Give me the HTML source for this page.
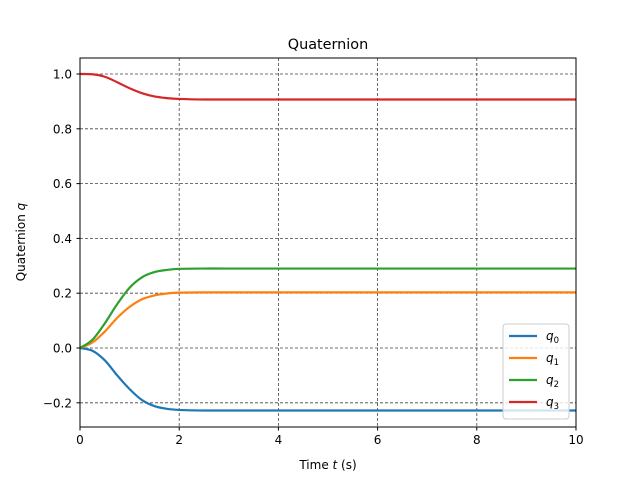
<!DOCTYPE html>
<html><head><meta charset="utf-8"><style>
body{margin:0;background:#fff;}
svg text{font-family:"DejaVu Sans","Liberation Sans",sans-serif;}
</style></head><body>
<svg id="chart" width="640" height="480" xmlns="http://www.w3.org/2000/svg">
<rect width="640" height="480" fill="#fff"/>
<g id="grid"></g>
<g id="lines"></g>
<rect x="80" y="58" width="496" height="369" fill="none" stroke="#000" stroke-width="1"/>
<g id="ticks"></g>
<text x="328" y="49" text-anchor="middle" font-size="14.4">Quaternion</text>
<text x="328" y="469" text-anchor="middle" font-size="12">Time <tspan font-style="italic">t</tspan> (s)</text>
<text transform="translate(25,242) rotate(-90)" text-anchor="middle" font-size="12">Quaternion <tspan font-style="italic">q</tspan></text>
<g id="legend"></g>
</svg>
<script>
const times=[0,0.25,0.5,0.75,1,1.25,1.5,1.75,2,2.5,3,4,6,8,10];
const q0=[0,-0.01,-0.045,-0.1,-0.15,-0.19,-0.212,-0.222,-0.226,-0.228,-0.228,-0.228,-0.228,-0.228,-0.228];
const q1=[0,0.02,0.06,0.11,0.15,0.178,0.192,0.199,0.202,0.203,0.203,0.203,0.203,0.203,0.203];
const q2=[0,0.03,0.09,0.16,0.22,0.258,0.277,0.285,0.289,0.29,0.29,0.29,0.29,0.29,0.29];
const q3=[1,0.999,0.99,0.97,0.948,0.93,0.918,0.912,0.909,0.907,0.907,0.907,0.907,0.907,0.907];
const xTicks=[0,2,4,6,8,10];
const yTicks=[-0.2,0,0.2,0.4,0.6,0.8,1.0];
const seriesNames=["q0","q1","q2","q3"];
const colors=["#1f77b4","#ff7f0e","#2ca02c","#d62728"];
const NS="http://www.w3.org/2000/svg";
const X=t=>80+t*49.6;
const Y=v=>348-v*274;
function mk(tag,attrs,parent){const e=document.createElementNS(NS,tag);for(const k in attrs)e.setAttribute(k,attrs[k]);parent.appendChild(e);return e;}
const grid=document.getElementById('grid'),ticks=document.getElementById('ticks');
xTicks.forEach(t=>{
 const g=mk('line',{x1:X(t),x2:X(t),y1:58,y2:427,stroke:'#444','stroke-width':0.8,'stroke-dasharray':'3,2'},grid);
 
 
 mk('line',{x1:X(t),x2:X(t),y1:427,y2:430.5,stroke:'#000'},ticks);
 const l=mk('text',{x:X(t),y:444,'text-anchor':'middle','font-size':12},ticks);
 l.textContent=t;
 
 
});
yTicks.forEach(v=>{
 const g=mk('line',{x1:80,x2:576,y1:Y(v),y2:Y(v),stroke:'#444','stroke-width':0.8,'stroke-dasharray':'3,2'},grid);
 
 
 mk('line',{x1:76.5,x2:80,y1:Y(v),y2:Y(v),stroke:'#000'},ticks);
 const l=mk('text',{x:72,y:Y(v)+4.5,'text-anchor':'end','font-size':12},ticks);
 l.textContent=(v<0?'\u2212':'')+Math.abs(v).toFixed(1);
 
 
});
function pathFor(vals){
 const p=times.map((t,i)=>[X(t),Y(vals[i])]);
 let d='M'+p[0][0]+','+p[0][1];
 for(let i=0;i<p.length-1;i++){
  const p0=p[Math.max(0,i-1)],p1=p[i],p2=p[i+1],p3=p[Math.min(p.length-1,i+2)];
  const c1=[p1[0]+(p2[0]-p0[0])/6,p1[1]+(p2[1]-p0[1])/6];
  const c2=[p2[0]-(p3[0]-p1[0])/6,p2[1]-(p3[1]-p1[1])/6];
  d+=' C'+c1+' '+c2+' '+p2;
 }
 return d;
}
const lines=document.getElementById('lines');
[q0,q1,q2,q3].forEach((s,i)=>{
 const p=mk('path',{d:pathFor(s),fill:'none',stroke:colors[i],'stroke-width':2.2},lines);
 
 
});
const lg=document.getElementById('legend');
mk('rect',{x:503,y:324,width:66,height:95,rx:3,fill:'#fff','fill-opacity':0.8,stroke:'#ccc'},lg);
seriesNames.forEach((n,i)=>{
 const y=336+i*22;
 const e=mk('g',{},lg);
 
 
 mk('line',{x1:509,x2:537,y1:y,y2:y,stroke:colors[i],'stroke-width':2.2},e);
 const t=mk('text',{x:546,y:y+4,'font-size':12,'font-style':'italic'},e);
 t.textContent='q';
 const s=mk('tspan',{'font-size':8.5,'font-style':'normal',dy:3},t);
 s.textContent=i;
});
</script>
</body></html>
